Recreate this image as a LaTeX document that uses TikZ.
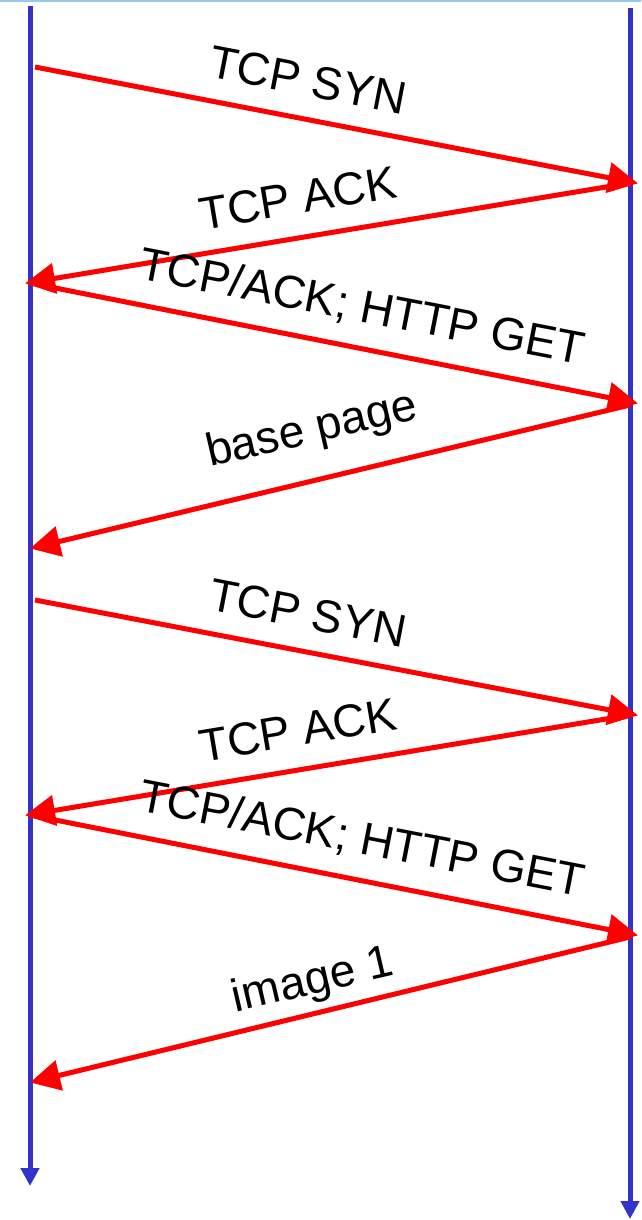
\documentclass[tikz,border=0pt]{standalone}
\usepackage{fontspec}
\setmainfont{Liberation Sans}
\usetikzlibrary{arrows.meta}
\definecolor{tlblue}{RGB}{51,51,204}
\definecolor{topblue}{RGB}{150,200,240}
\begin{document}
\begin{tikzpicture}[x=1pt,y=-1pt,
  timeline/.style={draw=tlblue,line width=5pt,-{Triangle[length=18pt,width=18pt]}},
  msg/.style={draw=red,line width=5pt,-{Triangle[length=30pt,width=30pt]},shorten >=-2pt},
  lbl/.style={font=\fontsize{46}{46}\selectfont,inner sep=0pt}]
\useasboundingbox (0,0) rectangle (641,1220);
\fill[white] (0,0) rectangle (641,1220);
\draw[topblue,line width=3pt] (0,1) -- (641,1);
% timelines
\coordinate (L0) at (30,6);
\coordinate (L1) at (30,1186);
\coordinate (R0) at (630,8);
\coordinate (R1) at (630,1219);
\draw[timeline] (L0) -- (L1);
\draw[timeline] (R0) -- (R1);
% message endpoints
\coordinate (a1) at (35,67);   \coordinate (b1) at (636,183);
\coordinate (a2) at (630,183); \coordinate (b2) at (27,283);
\coordinate (a3) at (30,283);  \coordinate (b3) at (636,403);
\coordinate (a4) at (630,405); \coordinate (b4) at (32,548);
\coordinate (a5) at (35,600);  \coordinate (b5) at (636,715);
\coordinate (a6) at (630,715); \coordinate (b6) at (27,815);
\coordinate (a7) at (30,815);  \coordinate (b7) at (636,935);
\coordinate (a8) at (630,937); \coordinate (b8) at (32,1082);
\draw[msg] (a1) -- (b1);
\draw[msg] (a2) -- (b2);
\draw[msg] (a3) -- (b3);
\draw[msg] (a4) -- (b4);
\draw[msg] (a5) -- (b5);
\draw[msg] (a6) -- (b6);
\draw[msg] (a7) -- (b7);
\draw[msg] (a8) -- (b8);
% labels
\node[lbl,rotate=-11] (t1) at (308,80) {TCP SYN};
\node[lbl,rotate=9.5] (t2) at (298,198) {TCP ACK};
\node[lbl,rotate=-11] (t3) at (362,308) {TCP/ACK; HTTP GET};
\node[lbl,rotate=13] (t4) at (312,431) {base page};
\node[lbl,rotate=-11] (t5) at (308,613) {TCP SYN};
\node[lbl,rotate=9.5] (t6) at (298,730) {TCP ACK};
\node[lbl,rotate=-11] (t7) at (362,840) {TCP/ACK; HTTP GET};
\node[lbl,rotate=13] (t8) at (313,982) {image 1};
\end{tikzpicture}
\end{document}
